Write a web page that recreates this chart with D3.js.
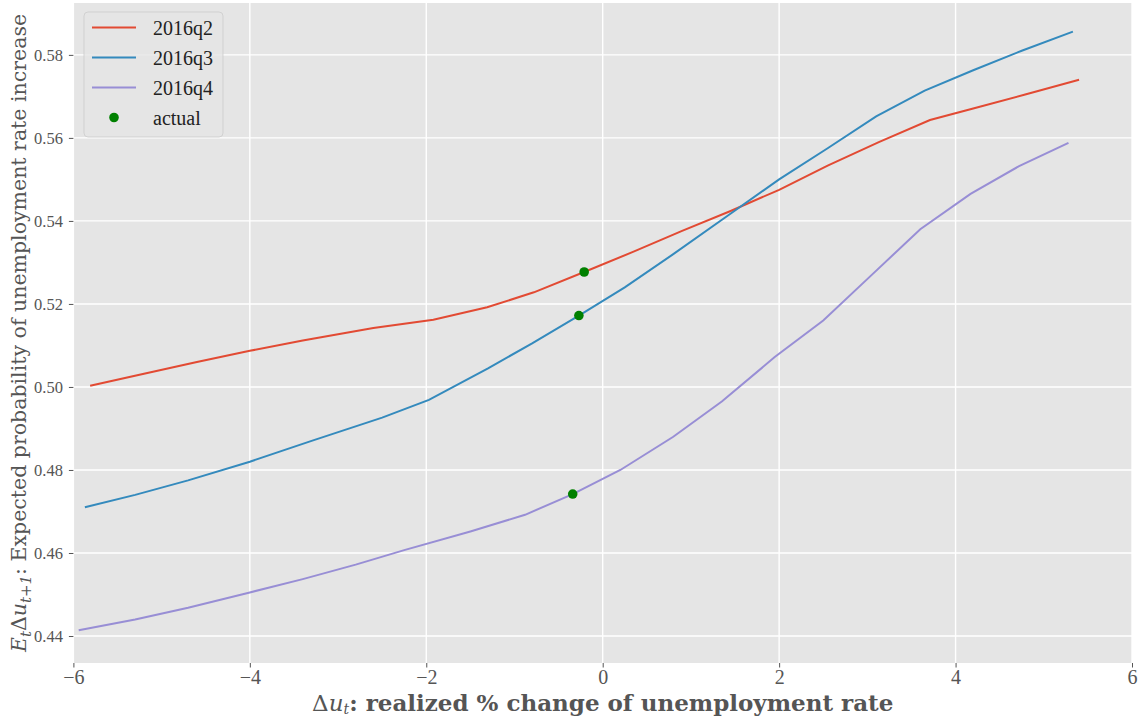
<!DOCTYPE html>
<html>
<head>
<meta charset="utf-8">
<script src="https://cdn.jsdelivr.net/npm/d3@7"></script>
<style>
  body { margin: 0; background: #fff; }
  svg { display: block; }
</style>
</head>
<body>
<script>
// data
const seriesNames = ["2016q2", "2016q3", "2016q4"];
const seriesColors = ["#E24A33", "#348ABD", "#988ED5"];

const q2x = [-5.81, -5.2, -4.6, -4.0, -3.4, -2.6, -1.92, -1.31, -0.78, -0.21, 0.35, 0.9, 1.45, 2.0, 2.55, 3.13, 3.71, 4.2, 4.8, 5.4];
const q2y = [0.5003, 0.5032, 0.5060, 0.5087, 0.5112, 0.5142, 0.5162, 0.5192, 0.5228, 0.5277, 0.5326, 0.5376, 0.5424, 0.5475, 0.5533, 0.5590, 0.5643, 0.5671, 0.5705, 0.5740];

const q3x = [-5.87, -5.3, -4.7, -4.0, -3.3, -2.5, -1.97, -1.3, -0.8, -0.27, 0.25, 0.8, 1.4, 2.0, 2.55, 3.1, 3.65, 4.2, 4.75, 5.33];
const q3y = [0.4710, 0.4740, 0.4775, 0.4820, 0.4870, 0.4926, 0.4969, 0.5045, 0.5105, 0.5172, 0.5240, 0.5320, 0.5410, 0.5500, 0.5575, 0.5652, 0.5714, 0.5763, 0.5810, 0.5856];

const q4x = [-5.94, -5.3, -4.7, -4.0, -3.4, -2.8, -2.25, -1.5, -0.88, -0.34, 0.2, 0.8, 1.35, 1.95, 2.5, 3.05, 3.6, 4.17, 4.72, 5.28];
const q4y = [0.4414, 0.4440, 0.4468, 0.4505, 0.4537, 0.4572, 0.4607, 0.4652, 0.4692, 0.4742, 0.4800, 0.4880, 0.4965, 0.5072, 0.5160, 0.5270, 0.5380, 0.5465, 0.5532, 0.5588];

const actualX = [-0.21, -0.27, -0.34];
const actualY = [0.5277, 0.5172, 0.4742];

const xTicks = [-6, -4, -2, 0, 2, 4, 6];
const yTicks = [0.44, 0.46, 0.48, 0.50, 0.52, 0.54, 0.56, 0.58];

const width = 1140,
      height = 718;
const margin = {top: 3, right: 8, bottom: 55, left: 73.4};

const svg = d3.select("body")
              .append("svg")
              .attr("width", width)
              .attr("height", height);

const x = d3.scaleLinear()
            .domain([-6, 6])
            .range([margin.left, width - margin.right]);
const y = d3.scaleLinear()
            .domain([0.4335, 0.5925])
            .range([height - margin.bottom, margin.top]);

// axes background
svg.append("rect")
   .attr("x", x(-6))
   .attr("y", y(0.5925))
   .attr("width", x(6) - x(-6))
   .attr("height", y(0.4335) - y(0.5925))
   .attr("fill", "#E5E5E5");

// grid
const grid = svg.append("g").attr("stroke", "#fff").attr("stroke-width", 1.4);
grid.selectAll(".gx")
    .data(xTicks)
    .enter().append("line")
    .attr("x1", d => x(d)).attr("x2", d => x(d))
    .attr("y1", y.range()[0]).attr("y2", y.range()[1]);
grid.selectAll(".gy")
    .data(yTicks)
    .enter().append("line")
    .attr("y1", d => y(d)).attr("y2", d => y(d))
    .attr("x1", x.range()[0]).attr("x2", x.range()[1]);

// axes
const fmtX = d => d < 0 ? "\u2212" + Math.abs(d) : String(d);
const xAxis = svg.append("g")
   .attr("transform", `translate(0,${y.range()[0]})`)
   .call(d3.axisBottom(x).tickValues(xTicks).tickFormat(fmtX).tickSize(4.5).tickPadding(2));
const yAxis = svg.append("g")
   .attr("transform", `translate(${x.range()[0]},0)`)
   .call(d3.axisLeft(y).tickValues(yTicks).tickFormat(d3.format(".2f")).tickSize(4.5).tickPadding(6));

[xAxis, yAxis].forEach(a => {
    a.select(".domain").remove();
    a.selectAll(".tick line").attr("stroke", "#555").attr("stroke-width", 1);
    a.selectAll(".tick text")
     .attr("fill", "#555")
     .style("font-family", "'Liberation Serif', serif");
});
xAxis.selectAll(".tick text").style("font-size", "20px");
yAxis.selectAll(".tick text").style("font-size", "16.5px");

// lines
const series = [
    {name: seriesNames[0], color: seriesColors[0], xs: q2x, ys: q2y},
    {name: seriesNames[1], color: seriesColors[1], xs: q3x, ys: q3y},
    {name: seriesNames[2], color: seriesColors[2], xs: q4x, ys: q4y}
];
const line = d3.line().x(d => x(d[0])).y(d => y(d[1]));

svg.append("g")
   .selectAll("path")
   .data(series)
   .enter()
   .append("path")
   .attr("d", s => line(d3.zip(s.xs, s.ys)))
   .attr("fill", "none")
   .attr("stroke", s => s.color)
   .attr("stroke-width", 2);

// actual points
svg.append("g")
   .selectAll("circle")
   .data(d3.zip(actualX, actualY))
   .enter()
   .append("circle")
   .attr("cx", d => x(d[0]))
   .attr("cy", d => y(d[1]))
   .attr("r", 4.8)
   .attr("fill", "#008000");

// legend
const legend = svg.append("g").attr("transform", "translate(84,12)");
legend.append("rect")
      .attr("width", 139)
      .attr("height", 125)
      .attr("rx", 4)
      .attr("fill", "#E5E5E5")
      .attr("fill-opacity", 0.8)
      .attr("stroke", "#CCCCCC")
      .attr("stroke-opacity", 0.8);

const legendItems = seriesNames.map((n, i) => ({name: n, color: seriesColors[i], kind: "line"}))
      .concat([{name: "actual", color: "#008000", kind: "dot"}]);

const rows = legend.selectAll(".row")
      .data(legendItems)
      .enter().append("g")
      .attr("transform", (d, i) => `translate(0,${15.5 + i * 30})`);
rows.filter(d => d.kind === "line")
    .append("line")
    .attr("x1", 8).attr("x2", 52)
    .attr("stroke", d => d.color)
    .attr("stroke-width", 2);
rows.filter(d => d.kind === "dot")
    .append("circle")
    .attr("cx", 30).attr("r", 4.8)
    .attr("fill", d => d.color);
rows.append("text")
    .attr("x", 69)
    .attr("dy", "0.35em")
    .style("font-family", "'Liberation Serif', serif")
    .style("font-size", "20px")
    .attr("fill", "#222")
    .text(d => d.name);

// axis labels
const xl = svg.append("text")
   .attr("x", (x.range()[0] + x.range()[1]) / 2)
   .attr("y", 710.5)
   .attr("text-anchor", "middle")
   .attr("fill", "#555")
   .style("font-family", "'DejaVu Serif', serif")
   .style("font-size", "23px");
xl.append("tspan").text("\u0394");
xl.append("tspan").style("font-style", "italic").text("u");
xl.append("tspan").style("font-style", "italic").style("font-size", "14px").attr("dy", 3).text("t");
xl.append("tspan").attr("dy", -3).style("font-weight", "bold").text(": realized % change of unemployment rate");

const yl = svg.append("text")
   .attr("transform", `translate(26,${(y.range()[0] + y.range()[1]) / 2}) rotate(-90)`)
   .attr("text-anchor", "middle")
   .attr("fill", "#555")
   .style("font-family", "'DejaVu Serif', serif")
   .style("font-size", "20.5px");
yl.append("tspan").style("font-style", "italic").text("E");
yl.append("tspan").style("font-style", "italic").style("font-size", "15px").attr("dy", 5).text("t");
yl.append("tspan").attr("dy", -5).text("\u0394");
yl.append("tspan").style("font-style", "italic").text("u");
yl.append("tspan").style("font-style", "italic").style("font-size", "15px").attr("dy", 5).text("t+1");
yl.append("tspan").attr("dy", -5).text(": Expected probability of unemployment rate increase");
</script>
</body>
</html>
